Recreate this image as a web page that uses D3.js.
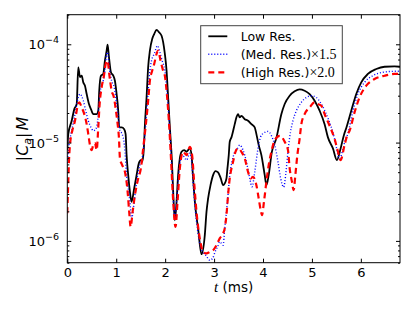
<!DOCTYPE html>
<html>
<head>
<meta charset="utf-8">
<script src="https://d3js.org/d3.v7.min.js"></script>
<style>
  body { margin: 0; background: #fff; }
  text { font-family: "DejaVu Sans", sans-serif; }
</style>
</head>
<body>
<script>
// series: [t (ms), |C_a| M]
var lowRes = [[0,8.4e-6],[.02,1.22e-5],[.09,1.67e-5],[.143,2.19e-5],[.192,2.47e-5],[.224,5.83e-5],[.259,4.65e-5],[.294,4.79e-5],[.327,4.10e-5],[.361,3.79e-5],[.396,3.12e-5],[.443,2.47e-5],[.484,2.19e-5],[.531,1.95e-5],[.60,1.95e-5],[.633,2.11e-5],[.653,3.37e-5],[.688,4.79e-5],[.735,4.99e-5],[.769,6.81e-5],[.804,8.61e-5],[.824,9.9e-5],[.851,7.43e-5],[.892,5.19e-5],[.939,4.79e-5],[.973,4.26e-5],[1.008,3.12e-5],[1.041,2.11e-5],[1.061,1.43e-5],[1.11,1.43e-5],[1.163,1.37e-5],[1.192,1.22e-5],[1.212,7.46e-6],[1.245,4.67e-6],[1.28,3.16e-6],[1.314,2.50e-6],[1.367,3.42e-6],[1.416,4.67e-6],[1.463,6.18e-6],[1.504,6.64e-6],[1.531,6.37e-6],[1.565,8.73e-6],[1.586,1.51e-5],[1.62,2.88e-5],[1.653,5.87e-5],[1.688,8.61e-5],[1.735,1.13e-4],[1.776,1.27e-4],[1.824,1.40e-4],[1.878,1.32e-4],[1.927,1.22e-4],[1.959,1.05e-4],[1.994,7.97e-5],[2.029,5.38e-5],[2.061,2.88e-5],[2.096,1.43e-5],[2.137,6.64e-6],[2.167,2.92e-6],[2.198,1.62e-6],[2.233,2.50e-6],[2.265,4.67e-6],[2.30,6.90e-6],[2.335,8.06e-6],[2.388,8.39e-6],[2.437,8.06e-6],[2.469,8.39e-6],[2.504,8.73e-6],[2.539,7.46e-6],[2.571,4.32e-6],[2.62,2.14e-6],[2.673,1.34e-6],[2.743,7.32e-7],[2.81,1.14e-6],[2.845,1.97e-6],[2.878,2.70e-6],[2.927,3.69e-6],[2.98,4.67e-6],[3.029,5.13e-6],[3.082,4.97e-6],[3.137,4.32e-6],[3.184,3.69e-6],[3.218,3.84e-6],[3.253,4.32e-6],[3.273,5.46e-6],[3.30,7.46e-6],[3.32,1.02e-5],[3.355,1.13e-5],[3.422,1.54e-5],[3.457,1.81e-5],[3.49,1.95e-5],[3.524,1.81e-5],[3.559,1.87e-5],[3.627,1.73e-5],[3.694,1.67e-5],[3.763,1.54e-5],[3.831,1.43e-5],[3.865,1.22e-5],[3.912,9.44e-6],[3.967,7.46e-6],[4.035,4.67e-6],[4.069,3.69e-6],[4.116,4.67e-6],[4.18,8.0e-6],[4.273,1.11e-5],[4.376,1.95e-5],[4.443,2.47e-5],[4.545,3.0e-5],[4.647,3.32e-5],[4.749,3.48e-5],[4.851,3.37e-5],[4.953,3.12e-5],[5.055,2.67e-5],[5.157,2.11e-5],[5.259,1.54e-5],[5.327,1.13e-5],[5.429,8.73e-6],[5.51,6.64e-6],[5.586,8.73e-6],[5.653,1.19e-5],[5.702,1.41e-5],[5.804,2.11e-5],[5.906,3.12e-5],[6.008,4.10e-5],[6.143,4.99e-5],[6.314,5.6e-5],[6.484,5.91e-5],[6.688,5.96e-5],[6.8,5.91e-5]];

var medRes = [[0,6.18e-6],[.035,9.44e-6],[.09,1.32e-5],[.157,1.95e-5],[.224,2.88e-5],[.259,3.12e-5],[.327,2.67e-5],[.376,2.11e-5],[.429,1.67e-5],[.484,1.43e-5],[.531,1.32e-5],[.58,1.37e-5],[.62,1.67e-5],[.653,2.67e-5],[.688,3.65e-5],[.735,4.26e-5],[.769,5.38e-5],[.804,7.97e-5],[.824,8.29e-5],[.857,5.83e-5],[.906,4.26e-5],[.959,3.65e-5],[1.008,2.47e-5],[1.041,1.81e-5],[1.076,1.32e-5],[1.122,1.22e-5],[1.167,9.44e-6],[1.212,4.67e-6],[1.28,2.50e-6],[1.314,1.69e-6],[1.367,2.50e-6],[1.416,3.99e-6],[1.484,5.90e-6],[1.531,6.90e-6],[1.571,1.02e-5],[1.62,1.95e-5],[1.653,3.37e-5],[1.688,5.38e-5],[1.722,6.81e-5],[1.776,7.97e-5],[1.845,9.68e-5],[1.892,8.29e-5],[1.939,6.81e-5],[1.994,5.38e-5],[2.035,3.37e-5],[2.076,1.81e-5],[2.116,8.39e-6],[2.157,3.28e-6],[2.198,1.70e-6],[2.239,2.72e-6],[2.28,5.0e-6],[2.32,6.9e-6],[2.367,7.3e-6],[2.437,6.64e-6],[2.504,7.82e-6],[2.539,6.64e-6],[2.576,3.69e-6],[2.627,1.83e-6],[2.688,1.07e-6],[2.749,8.04e-7],[2.83,7.15e-7],[2.914,6.36e-7],[2.973,6.67e-7],[3.02,7.73e-7],[3.076,8.83e-7],[3.116,9.8e-7],[3.184,9.04e-7],[3.218,1.34e-6],[3.273,2.50e-6],[3.32,4.67e-6],[3.367,6.37e-6],[3.422,8.06e-6],[3.478,8.73e-6],[3.524,9.44e-6],[3.592,8.39e-6],[3.661,6.37e-6],[3.729,4.32e-6],[3.776,3.55e-6],[3.831,5.04e-6],[3.898,8.73e-6],[3.953,1.15e-5],[4.014,1.25e-5],[4.102,1.30e-5],[4.178,1.16e-5],[4.239,9.44e-6],[4.306,6.37e-6],[4.361,4.32e-6],[4.422,3.52e-6],[4.463,4.67e-6],[4.51,8.06e-6],[4.545,1.13e-5],[4.612,1.67e-5],[4.682,2.11e-5],[4.784,2.57e-5],[4.886,2.88e-5],[4.988,3.0e-5],[5.09,2.88e-5],[5.192,2.47e-5],[5.294,1.95e-5],[5.396,1.43e-5],[5.463,1.09e-5],[5.565,6.9e-6],[5.63,8.39e-6],[5.68,1.06e-5],[5.733,1.22e-5],[5.837,2.11e-5],[5.939,3.12e-5],[6.076,4.10e-5],[6.245,4.79e-5],[6.449,5.19e-5],[6.688,5.31e-5],[6.8,5.31e-5]];

var highRes = [[0,1.91e-6],[.014,3.28e-6],[.035,6.64e-6],[.065,1.06e-5],[.102,1.32e-5],[.157,1.67e-5],[.212,2.37e-5],[.245,2.57e-5],[.294,2.28e-5],[.347,1.95e-5],[.396,1.54e-5],[.429,1.22e-5],[.463,9.44e-6],[.498,8.39e-6],[.535,9.66e-6],[.565,9.9e-6],[.60,8.39e-6],[.633,1.43e-5],[.661,2.47e-5],[.702,3.65e-5],[.749,4.79e-5],[.784,6.3e-5],[.824,6.81e-5],[.857,4.99e-5],[.906,3.37e-5],[.953,2.88e-5],[.994,2.11e-5],[1.029,1.54e-5],[1.055,1.13e-5],[1.076,6.9e-6],[1.122,5.90e-6],[1.178,5.04e-6],[1.233,3.16e-6],[1.265,1.97e-6],[1.294,1.39e-6],[1.335,1.97e-6],[1.382,2.92e-6],[1.449,4.32e-6],[1.504,5.46e-6],[1.551,8.73e-6],[1.606,1.54e-5],[1.653,2.67e-5],[1.688,4.26e-5],[1.735,5.38e-5],[1.776,6.3e-5],[1.824,7.97e-5],[1.857,8.61e-5],[1.906,6.81e-5],[1.959,5.38e-5],[1.994,4.79e-5],[2.035,3.12e-5],[2.076,1.67e-5],[2.116,7.46e-6],[2.157,2.92e-6],[2.212,1.39e-6],[2.253,2.50e-6],[2.30,5.46e-6],[2.367,8.06e-6],[2.437,7.46e-6],[2.504,9.06e-6],[2.551,7.46e-6],[2.592,3.99e-6],[2.641,1.97e-6],[2.708,1.06e-6],[2.776,7.73e-7],[2.845,7.45e-7],[2.912,7.73e-7],[2.98,8.04e-7],[3.049,9.04e-7],[3.116,1.06e-6],[3.184,1.19e-6],[3.218,1.34e-6],[3.253,1.83e-6],[3.286,2.92e-6],[3.32,4.32e-6],[3.355,5.46e-6],[3.388,6.37e-6],[3.437,8.06e-6],[3.49,8.73e-6],[3.559,8.06e-6],[3.627,6.90e-6],[3.694,5.04e-6],[3.749,4.32e-6],[3.796,4.49e-6],[3.865,3.69e-6],[3.912,2.70e-6],[3.953,2.05e-6],[3.98,1.83e-6],[4.02,2.50e-6],[4.069,3.99e-6],[4.116,5.90e-6],[4.171,8.06e-6],[4.239,1.06e-5],[4.341,1.17e-5],[4.376,1.15e-5],[4.443,1.02e-5],[4.51,8.39e-6],[4.545,5.46e-6],[4.592,3.99e-6],[4.627,3.28e-6],[4.661,4.67e-6],[4.702,7.46e-6],[4.749,1.10e-5],[4.784,1.54e-5],[4.851,1.95e-5],[4.953,2.28e-5],[5.055,2.57e-5],[5.122,2.47e-5],[5.192,2.37e-5],[5.259,1.95e-5],[5.361,1.48e-5],[5.463,1.09e-5],[5.524,8.39e-6],[5.586,6.64e-6],[5.667,9.44e-6],[5.722,1.19e-5],[5.769,1.32e-5],[5.871,2.03e-5],[5.973,2.88e-5],[6.11,3.79e-5],[6.28,4.43e-5],[6.484,4.79e-5],[6.688,4.99e-5],[6.8,4.99e-5]];

var xTicks = [0, 1, 2, 3, 4, 5, 6];
var yMajor = [1e-6, 1e-5, 1e-4];
var yExp = ["\u22126", "\u22125", "\u22124"];
var legendNames = ["Low Res.", "(Med. Res.)", "(High Res.)"];
var legendFactors = ["", "\u00d71.5", "\u00d72.0"];

var w = 415, h = 312;
var L = 67.3, T = 14.7, R = 400, B = 262.7;

var svg = d3.select("body").append("svg")
    .attr("width", w)
    .attr("height", h);

var x = d3.scaleLinear().domain([0, 6.8]).range([L, R]);
var y = d3.scaleLog().domain([6e-7, 2e-4]).range([B, T]);

svg.append("defs").append("clipPath").attr("id", "clip")
  .append("rect").attr("x", L).attr("y", T).attr("width", R - L).attr("height", B - T);

var line = d3.line()
    .x(function(d) { return x(d[0]); })
    .y(function(d) { return y(d[1]); })
    .curve(d3.curveMonotoneX);

var styles = [
  {data: lowRes, color: "#000000", width: 1.8, dash: null},
  {data: medRes, color: "#0000ff", width: 1.4, dash: "1,2"},
  {data: highRes, color: "#ff0000", width: 2.2, dash: "6,4"}
];

var plot = svg.append("g").attr("clip-path", "url(#clip)");
styles.forEach(function(s) {
  plot.append("path")
    .datum(s.data)
    .attr("d", line)
    .attr("fill", "none")
    .attr("stroke", s.color)
    .attr("stroke-width", s.width)
    .attr("stroke-dasharray", s.dash)
    .attr("stroke-linejoin", "round");
});

// axes, ticks pointing inward
var minor = [];
[1e-7, 1e-6, 1e-5, 1e-4].forEach(function(dec) {
  for (var k = 2; k <= 9; k++) {
    var v = k * dec;
    if (v >= 6e-7 && v <= 2e-4) minor.push(v);
  }
});

function noDomain(g) { g.select(".domain").remove(); }

svg.append("g").attr("transform", "translate(0," + B + ")")
  .call(d3.axisBottom(x).tickValues(xTicks).tickFormat(d3.format("d")).tickSizeInner(-4).tickSizeOuter(0).tickPadding(5))
  .call(noDomain)
  .call(function(g) {
    g.selectAll("text").attr("font-size", 13).attr("font-family", "DejaVu Sans").attr("fill", "#000");
  });
svg.append("g").attr("transform", "translate(0," + T + ")")
  .call(d3.axisTop(x).tickValues(xTicks).tickSizeInner(-4).tickSizeOuter(0).tickFormat(""))
  .call(noDomain);

svg.append("g").attr("transform", "translate(" + L + ",0)")
  .call(d3.axisLeft(y).tickValues(yMajor).tickSizeInner(-4).tickSizeOuter(0).tickFormat(""))
  .call(noDomain);
svg.append("g").attr("transform", "translate(" + L + ",0)")
  .call(d3.axisLeft(y).tickValues(minor).tickSizeInner(-2).tickSizeOuter(0).tickFormat(""))
  .call(noDomain);
svg.append("g").attr("transform", "translate(" + R + ",0)")
  .call(d3.axisRight(y).tickValues(yMajor).tickSizeInner(-4).tickSizeOuter(0).tickFormat(""))
  .call(noDomain);
svg.append("g").attr("transform", "translate(" + R + ",0)")
  .call(d3.axisRight(y).tickValues(minor).tickSizeInner(-2).tickSizeOuter(0).tickFormat(""))
  .call(noDomain);

// y tick labels 10^n
yMajor.forEach(function(v, i) {
  var t = svg.append("text")
    .attr("x", 59)
    .attr("y", y(v) + 5)
    .attr("text-anchor", "end")
    .attr("font-size", 13)
    .attr("fill", "#000");
  t.append("tspan").text("10");
  t.append("tspan").attr("dy", -6).attr("font-size", 9.5).text(yExp[i]);
});

svg.append("rect")
  .attr("x", L).attr("y", T)
  .attr("width", R - L).attr("height", B - T)
  .attr("fill", "none")
  .attr("stroke", "#000")
  .attr("stroke-width", 1);

// axis labels
var xl = svg.append("text")
  .attr("x", (L + R) / 2)
  .attr("y", 292)
  .attr("text-anchor", "middle")
  .attr("font-size", 13.5);
xl.append("tspan").attr("font-family", "Liberation Serif").attr("font-style", "italic").attr("font-size", 15).text("t");
xl.append("tspan").text(" (ms)");

var yl = svg.append("text")
  .attr("transform", "translate(28,139) rotate(-90)")
  .attr("text-anchor", "middle")
  .attr("font-family", "Liberation Serif")
  .attr("font-size", 16);
yl.append("tspan").text("|");
yl.append("tspan").attr("font-style", "italic").text("C");
yl.append("tspan").attr("font-style", "italic").attr("font-size", 11).attr("dy", 3).text("a");
yl.append("tspan").attr("dy", -3).text("|");
yl.append("tspan").attr("font-style", "italic").attr("dx", 2).text("M");

// legend
var lg = svg.append("g");
lg.append("rect")
  .attr("x", 200.7).attr("y", 25.7)
  .attr("width", 141.6).attr("height", 58)
  .attr("fill", "#fff")
  .attr("stroke", "#444")
  .attr("stroke-width", 1);
styles.forEach(function(s, i) {
  var ly = 36.3 + i * 18;
  lg.append("line")
    .attr("x1", 208.3).attr("x2", 227.3)
    .attr("y1", ly).attr("y2", ly)
    .attr("stroke", s.color)
    .attr("stroke-width", s.width)
    .attr("stroke-dasharray", s.dash);
  var tx = lg.append("text")
    .attr("x", 240.7)
    .attr("y", ly + 4.5)
    .attr("font-size", 12.5)
    .attr("fill", "#000");
  tx.append("tspan").text(legendNames[i]);
  if (legendFactors[i]) {
    tx.append("tspan").attr("font-family", "Liberation Serif").attr("font-size", 14).text(legendFactors[i]);
  }
});
</script>
</body>
</html>
